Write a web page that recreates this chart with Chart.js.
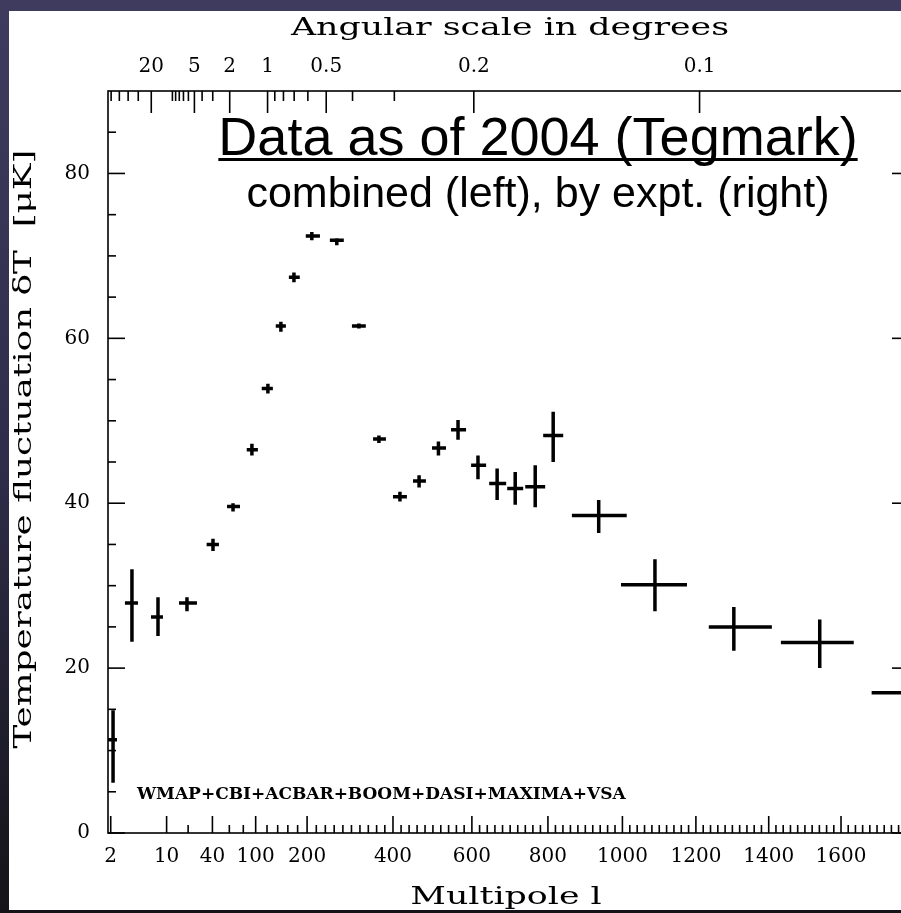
<!DOCTYPE html>
<html><head><meta charset="utf-8">
<script src="https://cdn.jsdelivr.net/npm/chart.js@4/dist/chart.umd.min.js"></script>
<style>
html,body{margin:0;padding:0;width:901px;height:913px;overflow:hidden;}
body{background:linear-gradient(to bottom,#3e3b5f 0%,#302d4a 50%,#141418 100%);position:relative;}
#panel{position:absolute;left:9px;top:11px;width:892px;height:899px;background:#fff;}
#wrap{position:absolute;left:0;top:0;width:901px;height:913px;overflow:hidden;}
canvas{position:absolute;left:0;top:0;}
</style></head><body>
<div id="panel"></div>
<div id="wrap"><canvas id="c" width="930" height="913"></canvas></div>
<script>
// ---- data ----
const multipole   = [2.1, 3.36, 7.53, 19.3, 40.6, 65, 93.7, 121.6, 146.2, 172.4, 210.2, 266, 317.5, 365.6, 417.2, 465, 514, 564.2, 615.8, 665.8, 713.3, 766.2, 814, 936, 1088.3, 1304, 1541, 1785];
const multipoleLo = [1.9, 2.78, 6.0, 15, 34.3, 57, 85.4, 110.5, 136.3, 162.1, 197.2, 250.2, 301.1, 351.4, 400, 449.8, 497.7, 546.2, 598, 645, 692.2, 739.8, 787.4, 864, 996.2, 1235.3, 1433.6, 1685];
const multipoleHi = [2.29, 4.0, 8.87, 26.1, 47.1, 75, 103.8, 130.8, 156.1, 184.5, 228, 282.1, 334, 382.7, 434.5, 482.3, 533.3, 584.9, 637, 689.5, 734.4, 792.7, 840.8, 1011.7, 1175.6, 1408.7, 1635.3, 1890];
const deltaT      = [11.3, 27.9, 26.2, 27.9, 35.0, 39.6, 46.5, 53.9, 61.5, 67.4, 72.4, 71.9, 61.5, 47.8, 40.8, 42.7, 46.7, 48.9, 44.6, 42.4, 41.8, 42.0, 48.2, 38.5, 30.1, 25.0, 23.1, 17.0];
const deltaTLo    = [6.1, 23.2, 23.9, 26.9, 34.2, 39.0, 45.8, 53.3, 60.8, 66.8, 71.9, 71.3, 61.2, 47.3, 40.2, 41.9, 45.8, 47.7, 42.9, 40.4, 39.8, 39.5, 45.0, 36.4, 26.9, 22.1, 20.0, 14.5];
const deltaTHi    = [14.9, 32.0, 28.6, 28.6, 35.7, 40.0, 47.2, 54.5, 62.0, 68.0, 72.9, 72.1, 61.8, 48.2, 41.4, 43.4, 47.5, 50.1, 45.8, 44.2, 43.8, 44.6, 51.1, 40.4, 33.2, 27.4, 25.9, 19.5];

const multipoleTicks = [2, 10, 40, 100, 200, 400, 600, 800, 1000, 1200, 1400, 1600];
const multipoleMinorTicks = [20, 60, 80, 120, 140, 160, 180, 220, 240, 260, 280, 300, 320, 340, 360, 380,
  420,440,460,480,500,520,540,560,580,620,640,660,680,700,720,740,760,780,820,840,860,880,900,920,940,960,980,
  1020,1040,1060,1080,1100,1120,1140,1160,1180,1220,1240,1260,1280,1300,1320,1340,1360,1380,
  1420,1440,1460,1480,1500,1520,1540,1560,1580,1620,1640,1660,1680,1700,1720,1740,1760,1780];
const angleTickLabels = ['20', '5', '2', '1', '0.5', '0.2', '0.1'];
const angleTickDegrees = [20, 5, 2, 1, 0.5, 0.2, 0.1];
const angleMinorDegrees = [90, 80, 70, 60, 50, 40, 30, 10, 9, 8, 7, 6, 4, 3, 0.9, 0.8, 0.7, 0.6, 0.4, 0.3];
const deltaTTicks = [0, 20, 40, 60, 80];
const deltaTMinorTicks = [5, 10, 15, 25, 30, 35, 45, 50, 55, 65, 70, 75, 85];

const experimentsLabel = 'WMAP+CBI+ACBAR+BOOM+DASI+MAXIMA+VSA';
const headline = 'Data as of 2004 (Tegmark)';
const subline = 'combined (left), by expt. (right)';

// ---- multipole axis: logarithmic at low l, nearly linear at high l ----
const LOG_WEIGHT = 70;
const T = l => l + LOG_WEIGHT * Math.log(l - 1);
function Tinv(t) {
  let lo = 1.0000001, hi = 5000;
  for (let i = 0; i < 80; i++) { const m = (lo + hi) / 2; if (T(m) < t) lo = m; else hi = m; }
  return (lo + hi) / 2;
}
class MultipoleScale extends Chart.LinearScale {
  getPixelForValue(value) {
    if (value === null || value === undefined || isNaN(value)) return NaN;
    const t0 = T(this.min), t1 = T(this.max);
    return this.getPixelForDecimal((T(value) - t0) / (t1 - t0));
  }
  getValueForPixel(pixel) {
    const t0 = T(this.min), t1 = T(this.max);
    return Tinv(t0 + this.getDecimalForPixel(pixel) * (t1 - t0));
  }
}
MultipoleScale.id = 'multipole';
MultipoleScale.defaults = { ticks: { callback: Chart.Ticks.formatters.numeric } };
Chart.register(MultipoleScale);

// angular scale (degrees) on the top axis: theta ~ DEG_L / l
const DEG_L = 121;
const angleToMultipole = a => DEG_L / a;

// ---- error bar segments built from arrays ----
const hSeg = [], vSeg = [];
multipole.forEach((l, i) => {
  hSeg.push({x: multipoleLo[i], y: deltaT[i]}, {x: multipoleHi[i], y: deltaT[i]}, {x: multipoleHi[i], y: null});
  vSeg.push({x: l, y: deltaTLo[i]}, {x: l, y: deltaTHi[i]}, {x: l, y: null});
});

const serif = 'DejaVu Serif';
const tickFont = {family: serif, size: 20};
const L_MIN = 1.895, L_MAX = 1789;

const framePlugin = {
  id: 'frameTicks',
  afterDraw(chart) {
    const {ctx, chartArea: a, scales} = chart;
    ctx.save();
    ctx.strokeStyle = '#000';
    ctx.lineWidth = 1.6;
    ctx.strokeRect(a.left, a.top, a.right - a.left, a.bottom - a.top);
    const seg = (x1, y1, x2, y2) => { ctx.beginPath(); ctx.moveTo(x1, y1); ctx.lineTo(x2, y2); ctx.stroke(); };
    const xs = scales.x, ys = scales.y;
    multipoleTicks.forEach(v => { const x = xs.getPixelForValue(v); seg(x, a.bottom, x, a.bottom - 17); });
    multipoleMinorTicks.forEach(v => { const x = xs.getPixelForValue(v); if (x < a.right) seg(x, a.bottom, x, a.bottom - 8); });
    angleTickDegrees.forEach(d => { const x = xs.getPixelForValue(angleToMultipole(d)); seg(x, a.top, x, a.top + 22); });
    angleMinorDegrees.forEach(d => { const l = angleToMultipole(d); if (l > L_MIN) { const x = xs.getPixelForValue(l); seg(x, a.top, x, a.top + 10); } });
    deltaTTicks.forEach(v => { const y = ys.getPixelForValue(v); seg(a.left, y, a.left + 17, y); seg(a.right, y, a.right - 17, y); });
    deltaTMinorTicks.forEach(v => { const y = ys.getPixelForValue(v); seg(a.left, y, a.left + 8, y); seg(a.right, y, a.right - 8, y); });

    ctx.fillStyle = '#000';
    const wide = (txt, cx, cy, rot, size, sx) => {
      ctx.save(); ctx.translate(cx, cy); if (rot) ctx.rotate(rot); ctx.scale(sx, 1);
      ctx.font = size + 'px "' + serif + '"'; ctx.textAlign = 'center'; ctx.textBaseline = 'alphabetic';
      ctx.fillText(txt, 0, 0); ctx.restore();
    };
    wide('Angular scale in degrees', 510, 35, 0, 24, 1.45);
    wide('Multipole l', 506, 904, 0, 24, 1.45);
    wide('Temperature fluctuation \u03b4T  [\u03bcK]', 31, 449, -Math.PI / 2, 24, 1.49);

    ctx.font = 'bold 17px "' + serif + '"'; ctx.textAlign = 'left'; ctx.textBaseline = 'alphabetic';
    ctx.fillText(experimentsLabel, 137, 799);

    ctx.font = '54px "Liberation Sans"'; ctx.textAlign = 'center';
    ctx.fillText(headline, 538, 155);
    const w = ctx.measureText(headline).width;
    ctx.fillRect(538 - w / 2, 158, w, 3);
    ctx.font = '43px "Liberation Sans"';
    ctx.fillText(subline, 538, 207);
    ctx.restore();
  }
};

new Chart(document.getElementById('c'), {
  type: 'scatter',
  data: { datasets: [
    { data: hSeg, showLine: true, spanGaps: false, borderColor: '#000', borderWidth: 3.5, pointRadius: 0, borderCapStyle: 'butt' },
    { data: vSeg, showLine: true, spanGaps: false, borderColor: '#000', borderWidth: 3.5, pointRadius: 0, borderCapStyle: 'butt' }
  ]},
  options: {
    responsive: false, animation: false, devicePixelRatio: 1,
    layout: { padding: 0 },
    plugins: { legend: { display: false }, tooltip: { enabled: false } },
    scales: {
      x: {
        type: 'multipole', position: 'bottom', min: L_MIN, max: L_MAX,
        afterFit(s) { s.height = 80; },
        afterBuildTicks(s) { s.ticks = multipoleTicks.map(v => ({ value: v })); },
        grid: { display: false, drawTicks: false }, border: { display: false },
        ticks: { autoSkip: false, maxRotation: 0, padding: 12, font: tickFont, color: '#000', callback: v => String(v) }
      },
      xTop: {
        type: 'multipole', position: 'top', min: L_MIN, max: L_MAX,
        afterFit(s) { s.height = 91; },
        afterBuildTicks(s) { s.ticks = angleTickDegrees.map(d => ({ value: angleToMultipole(d) })); },
        grid: { display: false, drawTicks: false }, border: { display: false },
        ticks: { autoSkip: false, maxRotation: 0, padding: 12, font: tickFont, color: '#000', callback: (v, i) => angleTickLabels[i] }
      },
      y: {
        type: 'linear', position: 'left', min: 0, max: 90,
        afterFit(s) { s.width = 108; },
        afterBuildTicks(s) { s.ticks = deltaTTicks.map(v => ({ value: v })); },
        grid: { display: false, drawTicks: false }, border: { display: false },
        ticks: { padding: 18, font: tickFont, color: '#000' }
      },
      y2: {
        type: 'linear', position: 'right', min: 0, max: 90,
        afterFit(s) { s.width = 21; },
        grid: { display: false, drawTicks: false }, border: { display: false },
        ticks: { display: false }
      }
    }
  },
  plugins: [framePlugin]
});
</script>
</body></html>
